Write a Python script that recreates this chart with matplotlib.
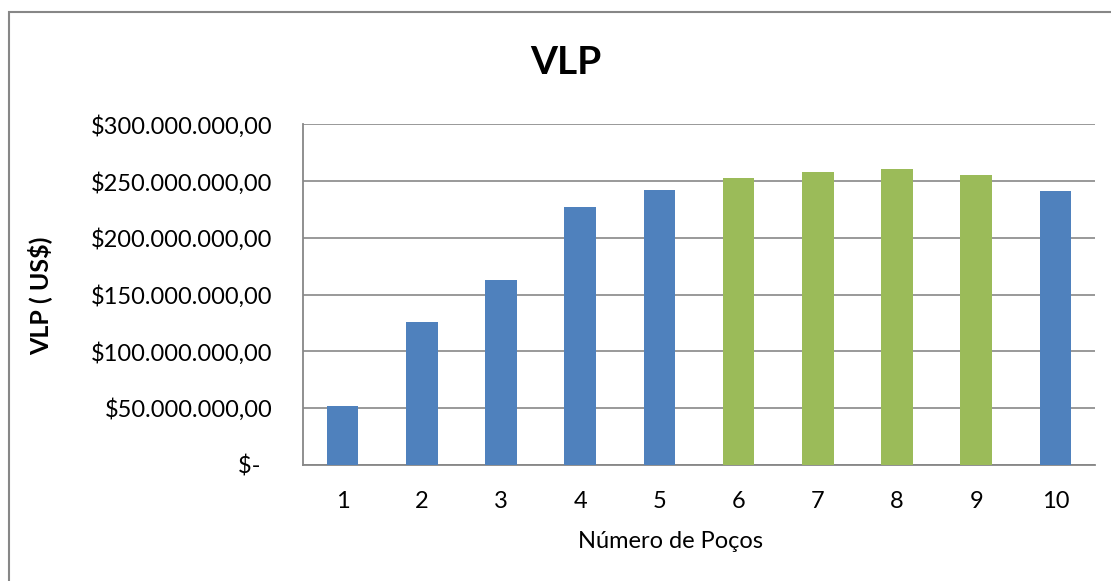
import matplotlib.pyplot as plt
from matplotlib.patches import Rectangle
from matplotlib.ticker import FuncFormatter

plt.rcParams['font.family'] = ['Lato', 'DejaVu Sans']

pocos = [1, 2, 3, 4, 5, 6, 7, 8, 9, 10]
vlp = [51.5e6, 125.8e6, 162.9e6, 227.0e6, 242.2e6,
       252.8e6, 258.1e6, 260.8e6, 255.5e6, 241.6e6]
destaque = [False, False, False, False, False, True, True, True, True, False]
yticks = [0, 50e6, 100e6, 150e6, 200e6, 250e6, 300e6]

AZUL = '#4F81BD'
VERDE = '#9BBB59'
CINZA = '#878787'

W, H = 1111, 581
fig = plt.figure(figsize=(W / 100, H / 100), dpi=100)

# moldura do gráfico
fig.patches.append(Rectangle((9 / W, -0.1), 2, (H - 12) / H + 0.1,
                             transform=fig.transFigure, fill=False,
                             edgecolor=CINZA, linewidth=1.5))

ax = fig.add_axes([303 / W, (H - 464.7) / H, 792 / W, 340.4 / H])

cores = [VERDE if d else AZUL for d in destaque]
ax.bar(pocos, vlp, width=0.4, color=cores, zorder=3)

ax.set_xlim(0.5, 10.5)
ax.set_ylim(0, 300e6)
ax.set_yticks(yticks)
ax.set_xticks(pocos)


def moeda(v, pos):
    if v == 0:
        return '$-  '
    s = '{:,.2f}'.format(v)
    s = s.replace(',', 'X').replace('.', ',').replace('X', '.')
    return '$' + s


ax.yaxis.set_major_formatter(FuncFormatter(moeda))
ax.tick_params(axis='y', length=0, pad=22, labelsize=17)
ax.tick_params(axis='x', length=0, pad=19, labelsize=17)

ax.grid(axis='y', color=CINZA, linewidth=1.2, zorder=0)
for lado in ['top', 'right']:
    ax.spines[lado].set_visible(False)
for lado in ['left', 'bottom']:
    ax.spines[lado].set_color(CINZA)
    ax.spines[lado].set_linewidth(1.3)

fig.text(566 / W, 1 - 63 / H, 'VLP', ha='center', va='center',
         fontsize=28, fontweight='bold')
fig.text(40 / W, 1 - 296 / H, 'VLP ( US$)', ha='center', va='center',
         rotation=90, fontsize=18, fontweight='bold')
fig.text(670 / W, 1 - 541 / H, 'Número de Poços', ha='center', va='center',
         fontsize=17)

fig.savefig('out.png', dpi=100)
